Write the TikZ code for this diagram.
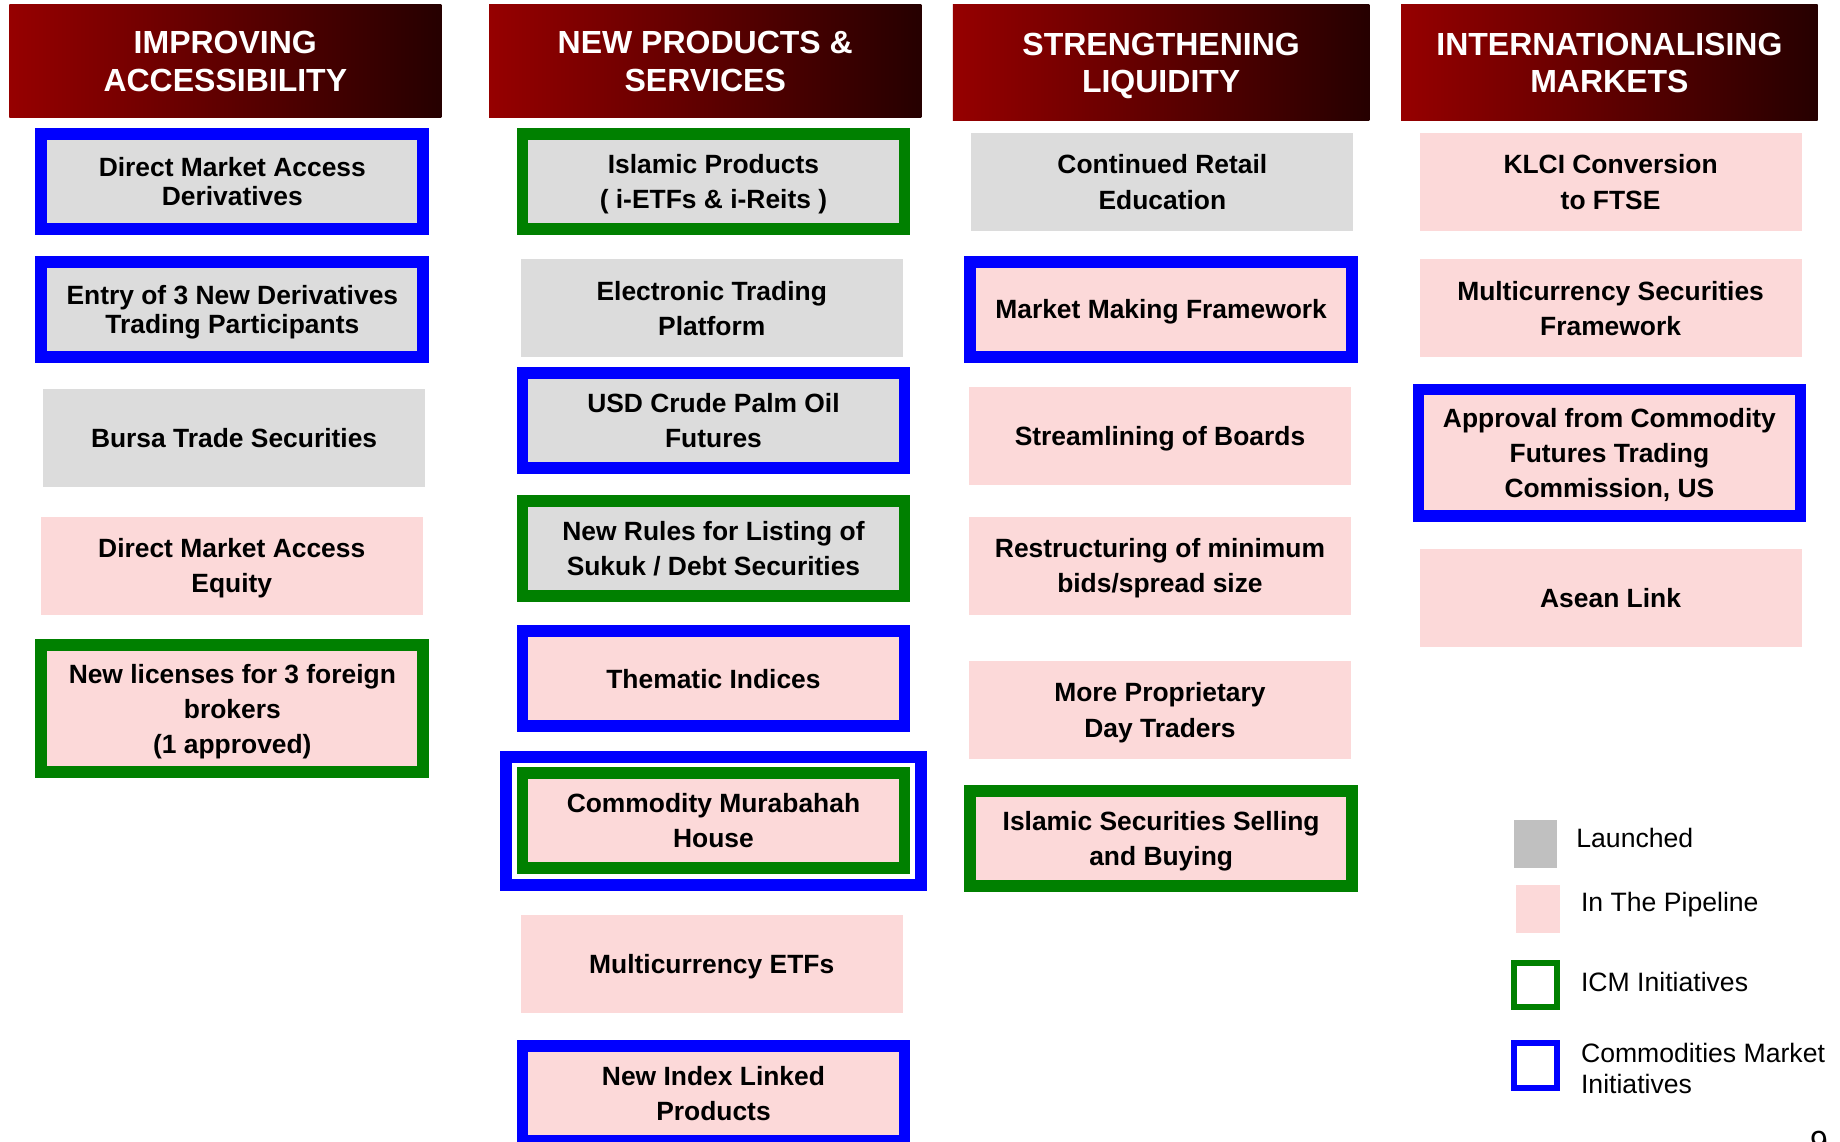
\documentclass[tikz,border=0pt]{standalone}
\usepackage{fontspec}
\setmainfont{Liberation Sans}

\definecolor{hdrred}{RGB}{150,0,0}
\definecolor{hdrdark}{RGB}{38,0,0}
\definecolor{launchgray}{RGB}{220,220,220}
\definecolor{keygray}{RGB}{192,192,192}
\definecolor{pipepink}{RGB}{252,217,217}
\definecolor{cmiblue}{RGB}{0,0,255}
\definecolor{icmgreen}{RGB}{0,128,0}

\begin{document}
\begin{tikzpicture}[x=0.5867pt, y=-0.5867pt,
        hdr/.style={left color=hdrred, right color=hdrdark, text=white, align=center, inner sep=2pt,
            text depth=0pt, font=\bfseries\fontsize{16}{18.8}\selectfont},
        initbox/.style={align=center, inner sep=2pt, minimum width=191pt, minimum height=49pt,
            text depth=-3.5pt, font=\bfseries\fontsize{13.2}{17.6}\selectfont},
        launched/.style={initbox, fill=launchgray},
        pipeline/.style={initbox, fill=pipepink},
        cmi/.style={draw=cmiblue, line width=5.9pt, minimum height=47.5pt},
        icm/.style={draw=icmgreen, line width=5.9pt, minimum height=47.5pt},
        tall/.style={minimum height=63.4pt},
        tight/.style={font=\bfseries\fontsize{13.2}{14.7}\selectfont, text depth=-2pt},
        keybox/.style={inner sep=0pt},
        keytext/.style={anchor=base west, inner sep=0pt, font=\fontsize{13.3}{15.8}\selectfont}]

        \fill[white] (0,0) rectangle (1568,973);
        \path[use as bounding box] (0,0) rectangle (1568,973);

        % column headers
        \node[hdr, minimum width=216pt, minimum height=56.3pt] (hAcc) at (192,52) {IMPROVING\\ACCESSIBILITY};
        \node[hdr, minimum width=216pt, minimum height=56.3pt] (hNew) at (601,52) {NEW PRODUCTS \&\\SERVICES};
        \node[hdr, minimum width=208.3pt, minimum height=58.1pt] (hLiq) at (989.5,53.5) {STRENGTHENING\\LIQUIDITY};
        \node[hdr, minimum width=208.3pt, minimum height=58.1pt] (hInt) at (1371.5,53.5) {INTERNATIONALISING\\MARKETS};

        % improving accessibility
        \node[launched, cmi, tight] (acc1) at (198,154.5) {Direct Market Access\\Derivatives};
        \node[launched, cmi, tight] (acc2) at (198,263.5) {Entry of 3 New Derivatives\\Trading Participants};
        \node[launched] (acc3) at (199.5,373) {Bursa Trade Securities};
        \node[pipeline] (acc4) at (197.5,482) {Direct Market Access\\Equity};
        \node[pipeline, icm, tall] (acc5) at (198,604) {New licenses for 3 foreign\\brokers\\(1 approved)};

        % new products & services
        \node[launched, icm] (np1) at (608,154.5) {Islamic Products\\( i-ETFs \& i-Reits )};
        \node[launched] (np2) at (606.5,262.5) {Electronic Trading\\Platform};
        \node[launched, cmi] (np3) at (608,358.5) {USD Crude Palm Oil\\Futures};
        \node[launched, icm] (np4) at (608,467.5) {New Rules for Listing of\\Sukuk / Debt Securities};
        \node[pipeline, cmi] (np5) at (608,578.5) {Thematic Indices};
        \node[cmi, minimum width=207.7pt, minimum height=64pt] (np6frame) at (608,699.5) {};
        \node[pipeline, icm] (np6) at (608,699) {Commodity Murabahah\\House};
        \node[pipeline] (np7) at (606.5,821.5) {Multicurrency ETFs};
        \node[pipeline, cmi] (np8) at (608,932) {New Index Linked\\Products};

        % strengthening liquidity
        \node[launched] (liq1) at (990.5,155) {Continued Retail\\Education};
        \node[pipeline, cmi] (liq2) at (989.5,263.5) {Market Making Framework};
        \node[pipeline] (liq3) at (988.5,371.5) {Streamlining of Boards};
        \node[pipeline] (liq4) at (988.5,482) {Restructuring of minimum\\bids/spread size};
        \node[pipeline] (liq5) at (988.5,605) {More Proprietary\\Day Traders};
        \node[pipeline, icm] (liq6) at (989.5,714.5) {Islamic Securities Selling\\and Buying};

        % internationalising markets
        \node[pipeline] (int1) at (1372.5,155) {KLCI Conversion\\to FTSE};
        \node[pipeline] (int2) at (1372.5,262.5) {Multicurrency Securities\\Framework};
        \node[pipeline, cmi, tall] (int3) at (1371.5,386) {Approval from Commodity\\Futures Trading\\Commission, US};
        \node[pipeline] (int4) at (1372.5,509.5) {Asean Link};

        % legend
        \node[keybox, fill=keygray, minimum width=21.7pt, minimum height=24pt] (kLaunch) at (1308.5,719.5) {};
        \node[keybox, fill=pipepink, minimum width=21.7pt, minimum height=24pt] (kPipe) at (1310.5,774.5) {};
        \node[keybox, draw=icmgreen, line width=3pt, minimum width=21.1pt, minimum height=22.3pt] (kIcm) at (1308.5,839.5) {};
        \node[keybox, draw=cmiblue, line width=3pt, minimum width=21.1pt, minimum height=22.9pt] (kCmi) at (1308.5,908) {};
        \node[keytext] (tLaunch) at (1343,722) {Launched};
        \node[keytext] (tPipe) at (1347,777) {In The Pipeline};
        \node[keytext] (tIcm) at (1347,845) {ICM Initiatives};
        \node[keytext, anchor=west, align=left] (tCmi) at (1347,910.5) {Commodities Market\\Initiatives};

        \node[anchor=base, inner sep=0pt, font=\fontsize{16}{16}\selectfont] (pg) at (1550,983) {9};
\end{tikzpicture}
\end{document}
